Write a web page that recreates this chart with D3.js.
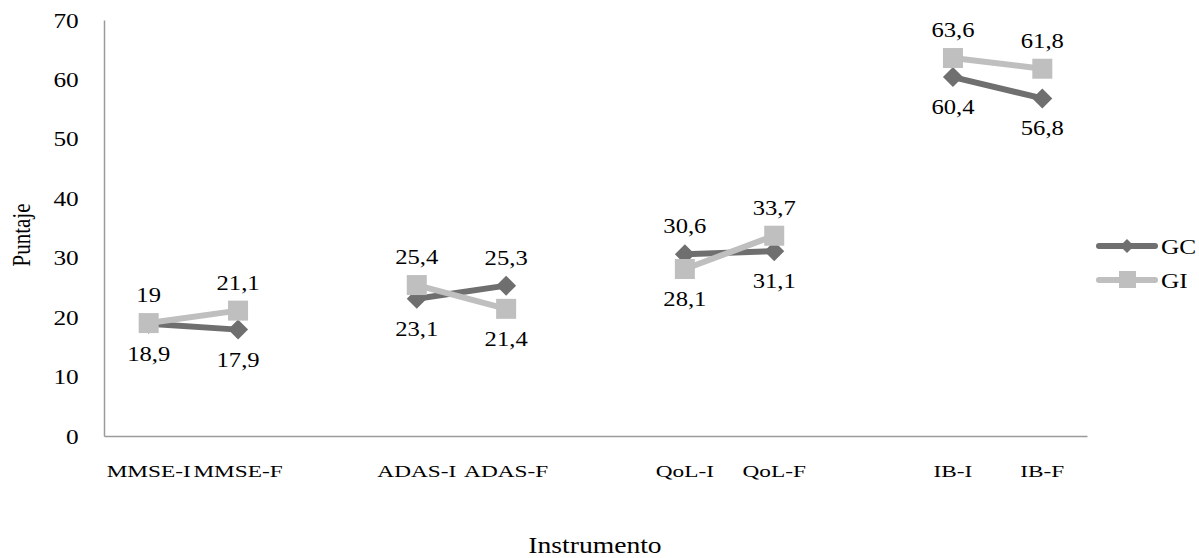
<!DOCTYPE html>
<html>
<head>
<meta charset="utf-8">
<script src="https://cdn.jsdelivr.net/npm/d3@7"></script>
<style>
  body { margin: 0; background: #fff; }
</style>
</head>
<body>
<div id="viz"></div>
<script>
// categories (blank slots separate the pairs, as in the original sheet)
var categories = ['MMSE-I', 'MMSE-F', '', 'ADAS-I', 'ADAS-F', ' ', 'QoL-I', 'QoL-F', '  ', 'IB-I', 'IB-F'];
var pairs = [['MMSE-I', 'MMSE-F'], ['ADAS-I', 'ADAS-F'], ['QoL-I', 'QoL-F'], ['IB-I', 'IB-F']];
var gcValues = [18.9, 17.9, 23.1, 25.3, 30.6, 31.1, 60.4, 56.8];
var giValues = [19, 21.1, 25.4, 21.4, 28.1, 33.7, 63.6, 61.8];
var yTicks = [0, 10, 20, 30, 40, 50, 60, 70];

var serif = '"Liberation Serif", "Times New Roman", serif';
var width = 1199, height = 558;
var svg = d3.select('#viz').append('svg')
            .attr('width', width)
            .attr('height', height)
            .attr('font-family', serif);

var x = d3.scaleBand().domain(categories).range([104, 1087]);
var y = d3.scaleLinear().domain([0, 70]).range([436, 20]);

var points = pairs.flat();
var series = [
  {name: 'GC', values: gcValues, other: giValues, color: '#6f6f6f', shape: 'diamond'},
  {name: 'GI', values: giValues, other: gcValues, color: '#bfbfbf', shape: 'square'}
];

// axes (the original text is a bit wide, hence the x scaling)
var yAxis = svg.append('g')
               .attr('transform', 'translate(104,0)')
               .call(d3.axisLeft(y).tickValues(yTicks).tickSize(0).tickPadding(22))
               .attr('font-family', serif);
yAxis.select('.domain').attr('stroke', '#9a9a9a').attr('stroke-width', 1.5);
yAxis.selectAll('text')
     .attr('fill', '#000')
     .attr('transform', 'scale(1.15,1)')
     .style('font-size', '22px');

var xAxis = svg.append('g')
               .attr('transform', 'translate(0,436)')
               .call(d3.axisBottom(x).tickSize(0).tickPadding(29))
               .attr('font-family', serif);
xAxis.select('.domain').attr('stroke', '#9a9a9a').attr('stroke-width', 1.5);
xAxis.selectAll('text')
     .attr('fill', '#000')
     .attr('transform', 'scale(1.37,1)')
     .style('font-size', '17px');

svg.append('text')
   .attr('transform', 'translate(595,553) scale(1.2,1)')
   .attr('text-anchor', 'middle')
   .style('font-size', '23px')
   .text('Instrumento');
svg.append('text')
   .attr('transform', 'translate(30,235) rotate(-90) scale(1,1.15)')
   .attr('text-anchor', 'middle')
   .style('font-size', '21px')
   .text('Puntaje');

var cx = function(c) { return x(c) + x.bandwidth() / 2; };
var line = d3.line().x(d => cx(d.c)).y(d => y(d.v));
var fmt = function(v) { return String(v).replace('.', ','); };

var drawMarker = function(g, s, px, py) {
  if (s.shape === 'diamond') {
    g.append('path')
     .attr('d', 'M' + px + ',' + (py - 10) + 'L' + (px + 10) + ',' + py + 'L' + px + ',' + (py + 10) + 'L' + (px - 10) + ',' + py + 'Z')
     .attr('fill', s.color);
  } else {
    g.append('rect')
     .attr('x', px - 10).attr('y', py - 10)
     .attr('width', 20).attr('height', 20)
     .attr('fill', s.color);
  }
};

series.forEach(function(s) {
  var g = svg.append('g');
  pairs.forEach(function(p) {
    var data = p.map(c => ({c: c, v: s.values[points.indexOf(c)]}));
    g.append('path')
     .datum(data)
     .attr('d', line)
     .attr('fill', 'none')
     .attr('stroke', s.color)
     .attr('stroke-width', 6)
     .attr('stroke-linecap', 'round');
  });
  points.forEach(function(c, i) {
    drawMarker(g, s, cx(c), y(s.values[i]));
  });
});

// data labels: above when the series is the higher one at that point
series.forEach(function(s) {
  points.forEach(function(c, i) {
    var above = s.values[i] > s.other[i];
    var ly = y(s.values[i]) + (above ? -21 : 37);
    svg.append('text')
       .attr('transform', 'translate(' + cx(c) + ',' + ly + ') scale(1.12,1)')
       .attr('text-anchor', 'middle')
       .style('font-size', '22px')
       .text(fmt(s.values[i]));
  });
});

// legend
var legend = svg.append('g');
series.forEach(function(s, i) {
  var ly = 246 + i * 34;
  legend.append('line')
        .attr('x1', 1099).attr('x2', 1155)
        .attr('y1', ly).attr('y2', ly)
        .attr('stroke', s.color)
        .attr('stroke-width', 6)
        .attr('stroke-linecap', 'round');
  if (s.shape === 'diamond') {
    legend.append('path')
          .attr('d', 'M1127,' + (ly - 7) + 'L1134,' + ly + 'L1127,' + (ly + 7) + 'L1120,' + ly + 'Z')
          .attr('fill', s.color);
  } else {
    legend.append('rect')
          .attr('x', 1119).attr('y', ly - 9)
          .attr('width', 17).attr('height', 17)
          .attr('fill', s.color);
  }
  legend.append('text')
        .attr('transform', 'translate(1161,' + (ly + 8) + ') scale(1.15,1)')
        .style('font-size', '22px')
        .text(s.name);
});
</script>
</body>
</html>
